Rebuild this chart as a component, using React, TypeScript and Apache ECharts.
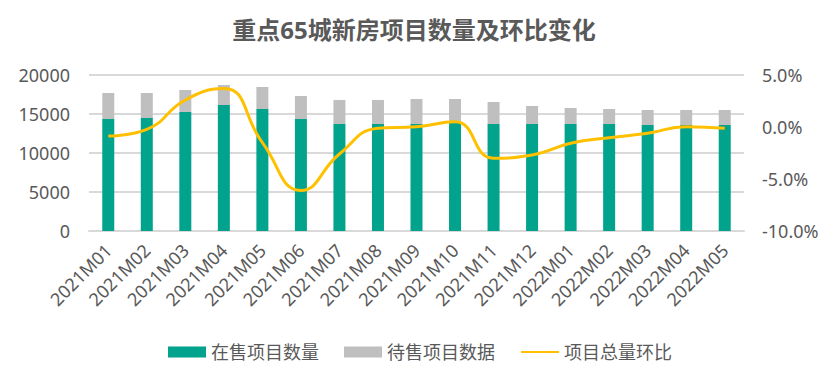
import React, { useEffect, useRef } from "react";
import * as echarts from "echarts";

const categories = [
  "2021M01", "2021M02", "2021M03", "2021M04", "2021M05", "2021M06",
  "2021M07", "2021M08", "2021M09", "2021M10", "2021M11", "2021M12",
  "2022M01", "2022M02", "2022M03", "2022M04", "2022M05",
];
const onSale = [14360, 14490, 15260, 16150, 15640, 14360, 13720, 13720, 13720, 13970, 13720, 13720, 13720, 13720, 13590, 13590, 13590];
const pending = [3330, 3200, 2820, 2570, 2820, 2950, 3080, 3080, 3200, 2950, 2820, 2310, 2050, 1920, 1920, 1920, 1920];
const momChange = [-0.87, -0.22, 2.6, 3.7, -1.5, -6.1, -2.6, -0.13, 0.03, 0.5, -3.0, -2.7, -1.57, -1.03, -0.61, 0.03, -0.13];

const leftTicks = { min: 0, max: 20000, interval: 5000 };
const rightTicks = { min: -10, max: 5, interval: 5 };

const FONT = "'Noto Sans', 'Noto Sans CJK SC', sans-serif";
const TEXT = "#595959";

export default function App() {
  const ref = useRef<HTMLDivElement>(null);
  useEffect(() => {
    if (!ref.current) return;
    const chart = echarts.init(ref.current, null, { renderer: "svg" });
    chart.setOption({
      animation: false,
      backgroundColor: "#ffffff",
      textStyle: { fontFamily: FONT },
      title: {
        text: "重点65城新房项目数量及环比变化",
        left: "center",
        top: 12,
        textStyle: { fontFamily: FONT, fontSize: 24, fontWeight: "bold", color: TEXT },
      },
      legend: {
        left: 163,
        top: 338,
        itemWidth: 38,
        itemHeight: 11,
        itemGap: 25,
        textStyle: { fontFamily: FONT, fontSize: 18, color: TEXT },
        data: [
          { name: "在售项目数量", icon: "rect" },
          { name: "待售项目数据", icon: "rect" },
          { name: "项目总量环比", itemStyle: { opacity: 0 } },
        ],
      },
      grid: { left: 89, right: 84, top: 75, bottom: 160, outerBoundsMode: "none" },
      xAxis: {
        type: "category",
        data: categories,
        axisLine: { lineStyle: { color: "#D9D9D9", width: 2 } },
        axisTick: { show: false },
        axisLabel: {
          interval: 0,
          rotate: 45,
          margin: 16,
          color: TEXT,
          fontSize: 18,
          fontFamily: FONT,
        },
      },
      yAxis: [
        {
          type: "value",
          min: leftTicks.min,
          max: leftTicks.max,
          interval: leftTicks.interval,
          axisLine: { show: false },
          axisTick: { show: false },
          splitLine: { lineStyle: { color: "#D9D9D9", width: 2 } },
          axisLabel: {
            color: TEXT,
            fontSize: 18,
            fontFamily: FONT,
            margin: 19,
            formatter: (v: number) => String(v),
          },
        },
        {
          type: "value",
          min: rightTicks.min,
          max: rightTicks.max,
          interval: rightTicks.interval,
          axisLine: { show: false },
          axisTick: { show: false },
          splitLine: { show: false },
          axisLabel: {
            color: TEXT,
            fontSize: 18,
            fontFamily: FONT,
            margin: 18,
            formatter: (v: number) => v.toFixed(1) + "%",
          },
        },
      ],
      series: [
        {
          name: "在售项目数量",
          type: "bar",
          stack: "total",
          barWidth: 12,
          itemStyle: { color: "#02A38C" },
          data: onSale,
        },
        {
          name: "待售项目数据",
          type: "bar",
          stack: "total",
          barWidth: 12,
          itemStyle: { color: "#BFBFBF" },
          data: pending,
        },
        {
          name: "项目总量环比",
          type: "line",
          yAxisIndex: 1,
          smooth: 0.5,
          symbol: "none",
          lineStyle: { color: "#FFC000", width: 3 },
          itemStyle: { color: "#FFC000" },
          data: momChange,
        },
      ],
    });
    return () => chart.dispose();
  }, []);
  return <div ref={ref} style={{ width: 828, height: 391, margin: -8 }} />;
}
